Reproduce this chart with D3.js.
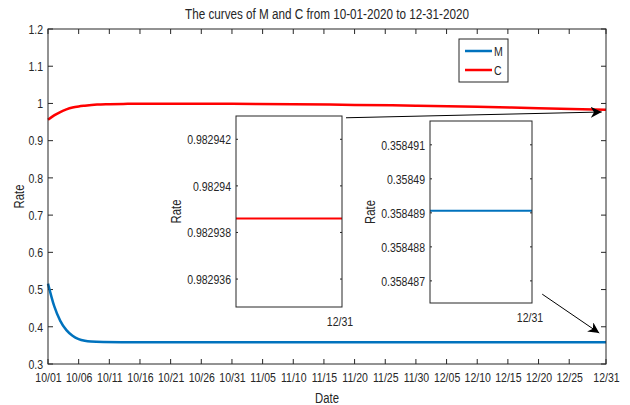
<!DOCTYPE html>
<html>
<head>
<meta charset="utf-8">
<script src="https://cdn.jsdelivr.net/npm/d3@7"></script>
<style>
  body { margin: 0; background: #fff; }
  text { font-family: "Liberation Sans", Arial, sans-serif; fill: #262626; }
</style>
</head>
<body>
<div id="chart"></div>
<script>
// Configuration
const W = 630;
const H = 405;
const AXIS_COLOR = "#262626";
const M_COLOR = "#0072BD";
const C_COLOR = "#FF0000";
const SQUEEZE = 0.78; // reference text is horizontally condensed

// Data (day offset from 10/01/2020)
const cDays   = [0, 1, 2, 3, 4, 5, 6, 8, 10, 13, 16, 20, 30, 40, 50, 60, 70, 80, 91];
const cValues = [0.956, 0.968, 0.977, 0.984, 0.989, 0.992, 0.994, 0.997, 0.998, 0.999, 0.9995, 0.9995, 0.999, 0.998, 0.996, 0.994, 0.991, 0.987, 0.983];
const mDays   = [0, 1, 2, 3, 4, 5, 6, 7, 9, 12, 20, 40, 60, 91];
const mValues = [0.516, 0.456, 0.416, 0.391, 0.376, 0.367, 0.3625, 0.3603, 0.3590, 0.3586, 0.3585, 0.3585, 0.3585, 0.3585];

const xTickDays = [0, 5, 10, 15, 20, 25, 30, 35, 40, 45, 50, 55, 60, 65, 70, 75, 80, 85, 91];
const xTickLabels = ["10/01", "10/06", "10/11", "10/16", "10/21", "10/26", "10/31", "11/05", "11/10",
                     "11/15", "11/20", "11/25", "11/30", "12/05", "12/10", "12/15", "12/20", "12/25", "12/31"];
const yTicks = [0.3, 0.4, 0.5, 0.6, 0.7, 0.8, 0.9, 1.0, 1.1, 1.2];

// Zoomed values at 12/31
const insetCDays = [90.9, 91];
const insetCValues = [0.9829386, 0.9829386];
const insetCTicks = [0.982936, 0.982938, 0.98294, 0.982942];
const insetMDays = [90.9, 91];
const insetMValues = [0.35848906, 0.35848906];
const insetMTicks = [0.358487, 0.358488, 0.358489, 0.35849, 0.358491];

const legendNames = ["M", "C"];
const legendColors = [M_COLOR, C_COLOR];

const svg = d3.select("#chart").append("svg")
    .attr("width", W)
    .attr("height", H);

// condensed text helper
function label(parent, x, y, str, size, anchor, rotate) {
    const g = parent.append("g")
        .attr("transform", `translate(${x},${y})` + (rotate ? ` rotate(${rotate})` : ""));
    g.append("text").attr("transform", `scale(${SQUEEZE},1)`)
        .attr("text-anchor", anchor || "middle").attr("font-size", size).text(str);
    return g;
}
function squeezeAxis(g, size) {
    g.selectAll("text").each(function () {
        const t = d3.select(this);
        const xv = +t.attr("x") || 0;
        t.attr("x", xv / SQUEEZE).attr("transform", `scale(${SQUEEZE},1)`)
            .attr("font-size", size).attr("fill", AXIS_COLOR).attr("font-family", null);
    });
}

// Main axes
const plot = { left: 48, right: 606, top: 29, bottom: 364 };
const x = d3.scaleLinear().domain([0, 91]).range([plot.left, plot.right]);
const y = d3.scaleLinear().domain([0.3, 1.2]).range([plot.bottom, plot.top]);

svg.append("rect")
    .attr("x", plot.left).attr("y", plot.top)
    .attr("width", plot.right - plot.left).attr("height", plot.bottom - plot.top)
    .attr("fill", "#fff");

const tickLen = 5;
const xAxis = d3.axisBottom(x).tickValues(xTickDays).tickSize(0).tickPadding(8)
    .tickFormat((d, i) => xTickLabels[i]);
const gx = svg.append("g").attr("transform", `translate(0,${plot.bottom})`).call(xAxis);
gx.select(".domain").remove();
squeezeAxis(gx, 13.5);

const yAxis = d3.axisLeft(y).tickValues(yTicks).tickSize(0).tickPadding(5)
    .tickFormat(d => d === 1 ? "1" : d3.format(".1f")(d));
const gy = svg.append("g").attr("transform", `translate(${plot.left},0)`).call(yAxis);
gy.select(".domain").remove();
squeezeAxis(gy, 13.5);

// Inward ticks on all four sides
const ticks = svg.append("g").attr("stroke", AXIS_COLOR).attr("stroke-width", 1);
xTickDays.forEach(d => {
    ticks.append("line").attr("x1", x(d)).attr("x2", x(d))
        .attr("y1", plot.bottom).attr("y2", plot.bottom - tickLen);
    ticks.append("line").attr("x1", x(d)).attr("x2", x(d))
        .attr("y1", plot.top).attr("y2", plot.top + tickLen);
});
yTicks.forEach(v => {
    ticks.append("line").attr("x1", plot.left).attr("x2", plot.left + tickLen)
        .attr("y1", y(v)).attr("y2", y(v));
    ticks.append("line").attr("x1", plot.right).attr("x2", plot.right - tickLen)
        .attr("y1", y(v)).attr("y2", y(v));
});

// Curves
const mLine = d3.line().x((d, i) => x(mDays[i])).y(d => y(d)).curve(d3.curveMonotoneX);
const cLine = d3.line().x((d, i) => x(cDays[i])).y(d => y(d)).curve(d3.curveMonotoneX);

svg.append("path").attr("d", cLine(cValues))
    .attr("fill", "none").attr("stroke", C_COLOR).attr("stroke-width", 2.5);
svg.append("path").attr("d", mLine(mValues))
    .attr("fill", "none").attr("stroke", M_COLOR).attr("stroke-width", 2.5);

// Box
svg.append("rect")
    .attr("x", plot.left).attr("y", plot.top)
    .attr("width", plot.right - plot.left).attr("height", plot.bottom - plot.top)
    .attr("fill", "none").attr("stroke", AXIS_COLOR).attr("stroke-width", 1);

// Title and labels
label(svg, (plot.left + plot.right) / 2, 19, "The curves of M and C from 10-01-2020 to 12-31-2020", 15);
label(svg, (plot.left + plot.right) / 2, 403, "Date", 14.5);
label(svg, 24, (plot.top + plot.bottom) / 2, "Rate", 14.5, "middle", -90);

// Legend
const legend = svg.append("g");
legend.append("rect").attr("x", 459).attr("y", 39).attr("width", 49).attr("height", 43)
    .attr("fill", "#fff").attr("stroke", AXIS_COLOR).attr("stroke-width", 1);
legendNames.forEach((name, i) => {
    const ly = 51 + i * 19;
    legend.append("line").attr("x1", 465).attr("x2", 492).attr("y1", ly).attr("y2", ly)
        .attr("stroke", legendColors[i]).attr("stroke-width", 2.5);
    label(legend, 494, ly + 5, name, 13.5, "start");
});

// Inset helper
function drawInset(box, days, values, tickVals, domain, color, fmt) {
    const ix = d3.scaleLinear().domain([days[0], days[days.length - 1]]).range([box.left, box.right]);
    const iy = d3.scaleLinear().domain(domain).range([box.bottom, box.top]);
    const g = svg.append("g");
    g.append("rect").attr("x", box.left).attr("y", box.top)
        .attr("width", box.right - box.left).attr("height", box.bottom - box.top)
        .attr("fill", "#fff");
    const ia = d3.axisLeft(iy).tickValues(tickVals).tickSize(0).tickPadding(5).tickFormat(fmt);
    const ga = g.append("g").attr("transform", `translate(${box.left},0)`).call(ia);
    ga.select(".domain").remove();
    squeezeAxis(ga, 13.5);
    tickVals.forEach(v => {
        g.append("line").attr("x1", box.left).attr("x2", box.left + 2)
            .attr("y1", iy(v)).attr("y2", iy(v)).attr("stroke", AXIS_COLOR);
        g.append("line").attr("x1", box.right).attr("x2", box.right - 2)
            .attr("y1", iy(v)).attr("y2", iy(v)).attr("stroke", AXIS_COLOR);
    });
    g.append("path").attr("d", d3.line().x((d, i) => ix(days[i])).y(d => iy(d))(values))
        .attr("fill", "none").attr("stroke", color).attr("stroke-width", 2);
    g.append("rect").attr("x", box.left).attr("y", box.top)
        .attr("width", box.right - box.left).attr("height", box.bottom - box.top)
        .attr("fill", "none").attr("stroke", AXIS_COLOR).attr("stroke-width", 1);
    label(g, ix(91) - 2, box.bottom + 19, xTickLabels[xTickLabels.length - 1], 13.5);
    label(g, box.labelX, (box.top + box.bottom) / 2, "Rate", 14.5, "middle", -90);
}

drawInset({ left: 236, right: 342, top: 116, bottom: 307, labelX: 181 },
    insetCDays, insetCValues, insetCTicks, [0.9829348, 0.982943], C_COLOR,
    d => d3.format(".6f")(d).replace(/0+$/, ""));
drawInset({ left: 430, right: 532, top: 121, bottom: 303, labelX: 375 },
    insetMDays, insetMValues, insetMTicks, [0.35848635, 0.3584917], M_COLOR,
    d => d3.format(".6f")(d).replace(/0+$/, ""));

// Arrows pointing at the 12/31 values
svg.append("defs").append("marker")
    .attr("id", "head").attr("viewBox", "0 0 10 10")
    .attr("refX", 10).attr("refY", 5)
    .attr("markerWidth", 11).attr("markerHeight", 11)
    .attr("markerUnits", "userSpaceOnUse")
    .attr("orient", "auto")
    .append("path").attr("d", "M0,0 L10,5 L0,10 L3,5 Z").attr("fill", "#000");

const arrows = [
    { from: [48.6, 0.9615], to: [90.3, 0.977] },
    { from: [80.6, 0.4876], to: [89.9, 0.383] }
];
arrows.forEach(a => {
    svg.append("line")
        .attr("x1", x(a.from[0])).attr("y1", y(a.from[1]))
        .attr("x2", x(a.to[0])).attr("y2", y(a.to[1]))
        .attr("stroke", "#000").attr("stroke-width", 1)
        .attr("marker-end", "url(#head)");
});
</script>
</body>
</html>
